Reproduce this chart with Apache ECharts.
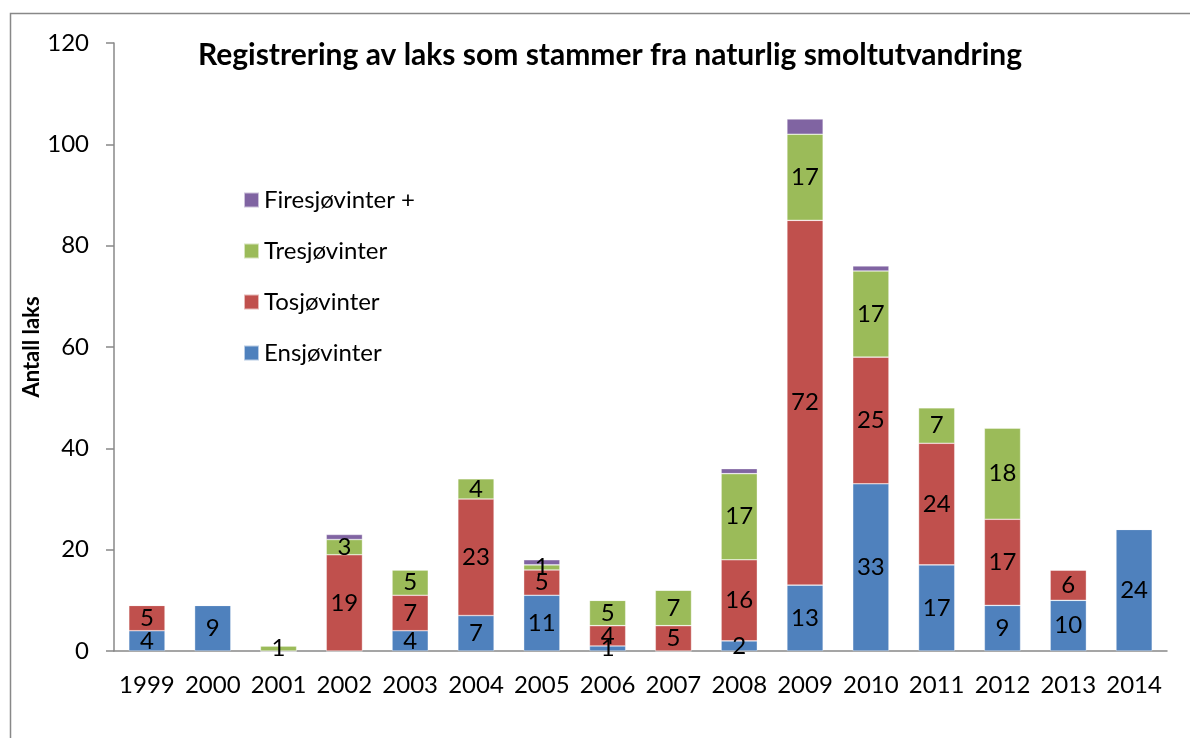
<!DOCTYPE html>
<html>
<head>
  <meta charset="utf-8">
  <title>Registrering av laks</title>
  <script src="https://cdn.jsdelivr.net/npm/echarts@6/dist/echarts.min.js"></script>
  <style>
    html, body { margin: 0; padding: 0; background: #fff; }
    #graph { width: 1190px; height: 738px; }
  </style>
</head>
<body>
  <div id="graph"></div>

  <script>
    // data
    var years = ['1999', '2000', '2001', '2002', '2003', '2004', '2005', '2006',
                 '2007', '2008', '2009', '2010', '2011', '2012', '2013', '2014'];
    var ensjovinter   = [4, 9, 0, 0, 4, 7, 11, 1, 0, 2, 13, 33, 17, 9, 10, 24];
    var tosjovinter   = [5, 0, 0, 19, 7, 23, 5, 4, 5, 16, 72, 25, 24, 17, 6, 0];
    var tresjovinter  = [0, 0, 1, 3, 5, 4, 1, 5, 7, 17, 17, 17, 7, 18, 0, 0];
    var firesjovinter = [0, 0, 0, 1, 0, 0, 1, 0, 0, 1, 3, 1, 0, 0, 0, 0];

    var fontName = 'Lato, "Open Sans", sans-serif';
    var myChart = echarts.init(document.getElementById('graph'));

    // shared bar style
    function barSeries(name, data, color, showLabel) {
      return {
        name: name,
        type: 'bar',
        stack: 'total',
        barCategoryGap: '45%',
        data: data,
        itemStyle: { color: color, borderColor: 'rgba(255,255,255,0.6)', borderWidth: 0.6 },
        label: {
          show: showLabel,
          position: 'inside',
          color: '#000',
          fontFamily: fontName,
          fontSize: 24,
          formatter: function (p) { return p.value ? p.value : ''; }
        }
      };
    }

    var option = {
      animation: false,
      graphic: [{
        type: 'rect',
        shape: { x: 10.5, y: 13.5, width: 1250, height: 800 },
        style: { fill: 'none', stroke: '#888', lineWidth: 1.5 },
        z: -1
      }],
      title: {
        text: 'Registrering av laks som stammer fra naturlig smoltutvandring',
        left: 605,
        textAlign: 'center',
        top: 35,
        textStyle: { fontFamily: fontName, fontSize: 30, fontWeight: 'bold', color: '#000' }
      },
      legend: {
        orient: 'vertical',
        left: 238,
        top: 183,
        itemWidth: 15,
        itemHeight: 15,
        itemGap: 27,
        icon: 'rect',
        data: ['Firesjøvinter +', 'Tresjøvinter', 'Tosjøvinter', 'Ensjøvinter'],
        textStyle: { fontFamily: fontName, fontSize: 24, color: '#000', lineHeight: 24 }
      },
      grid: { left: 114, right: 23, top: 43, bottom: 87, containLabel: false },
      xAxis: {
        type: 'category',
        data: years,
        axisLine: { lineStyle: { color: '#888', width: 1.5 } },
        axisTick: { length: 8, lineStyle: { color: '#888', width: 1.5 } },
        axisLabel: { interval: 0, color: '#000', fontFamily: fontName, fontSize: 24, margin: 22 }
      },
      yAxis: {
        type: 'value',
        min: 0,
        max: 120,
        interval: 20,
        name: 'Antall laks',
        nameLocation: 'middle',
        nameGap: 71,
        nameMoveOverlap: false,
        nameTextStyle: { fontFamily: fontName, fontSize: 22, fontWeight: 'bold', color: '#000' },
        splitLine: { show: false },
        axisLine: { show: true, lineStyle: { color: '#888', width: 1.5 } },
        axisTick: { show: true, length: 8, lineStyle: { color: '#888', width: 1.5 } },
        axisLabel: { color: '#000', fontFamily: fontName, fontSize: 24, margin: 25 }
      },
      series: [
        barSeries('Ensjøvinter', ensjovinter, '#4F81BD', true),
        barSeries('Tosjøvinter', tosjovinter, '#C0504D', true),
        barSeries('Tresjøvinter', tresjovinter, '#9BBB59', true),
        barSeries('Firesjøvinter +', firesjovinter, '#8064A2', false)
      ]
    };

    myChart.setOption(option);
  </script>
</body>
</html>
